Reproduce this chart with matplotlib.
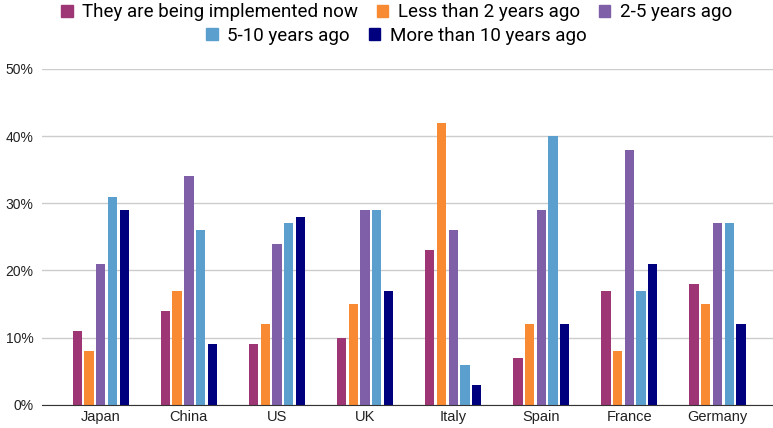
import matplotlib.pyplot as plt
import numpy as np
from matplotlib.patches import Patch

plt.rcParams['font.family'] = ['Roboto', 'DejaVu Sans']

countries = ['Japan', 'China', 'US', 'UK', 'Italy', 'Spain', 'France', 'Germany']
series = ['They are being implemented now', 'Less than 2 years ago', '2-5 years ago',
          '5-10 years ago', 'More than 10 years ago']
now = [11, 14, 9, 10, 23, 7, 17, 18]
lt2 = [8, 17, 12, 15, 42, 12, 8, 15]
y2_5 = [21, 34, 24, 29, 26, 29, 38, 27]
y5_10 = [31, 26, 27, 29, 6, 40, 17, 27]
gt10 = [29, 9, 28, 17, 3, 12, 21, 12]
colors = ['#9e3676', '#f98a34', '#7e5fa8', '#5b9fcf', '#00007f']

values = [now, lt2, y2_5, y5_10, gt10]

fig = plt.figure(figsize=(7.73, 4.28), dpi=100)
ax = fig.add_axes([0.054, 0.054, 0.946, 0.785])

x = np.arange(len(countries))
step, width = 0.133, 0.106
for i, (vals, c) in enumerate(zip(values, colors)):
    ax.bar(x + (i - 2) * step, np.array(vals) / 100, width=width, color=c, zorder=3)

ax.set_xlim(-0.67, 7.63)
ax.set_ylim(0, 0.5)
ax.set_yticks([0, 0.1, 0.2, 0.3, 0.4, 0.5])
ax.set_yticklabels(['0%', '10%', '20%', '30%', '40%', '50%'])
ax.set_xticks(x)
ax.set_xticklabels(countries)
ax.tick_params(length=0, labelsize=10.5, colors='#222222')
ax.tick_params(axis='y', labelsize=10, pad=6)
ax.tick_params(axis='x', pad=4)
for lbl in ax.get_xticklabels() + ax.get_yticklabels():
    lbl.set_family(['Liberation Sans', 'DejaVu Sans'])
ax.grid(axis='y', color='#cccccc', linewidth=1, zorder=0)
for s in ['top', 'right', 'left']:
    ax.spines[s].set_visible(False)
ax.spines['bottom'].set_color('#333333')
ax.spines['bottom'].set_zorder(4)

handles = [Patch(color=c, label=s) for s, c in zip(series, colors)]
leg_kw = dict(loc='center', frameon=False, fontsize=13.5, handlelength=0.62,
              handleheight=0.62, handletextpad=0.5, columnspacing=1.0, borderpad=0)
fig.legend(handles=handles[:3], bbox_to_anchor=(0.513, 0.971), ncol=3, **leg_kw)
fig.legend(handles=handles[3:], bbox_to_anchor=(0.513, 0.916), ncol=2, **leg_kw)

fig.savefig('out.png', dpi=100)
